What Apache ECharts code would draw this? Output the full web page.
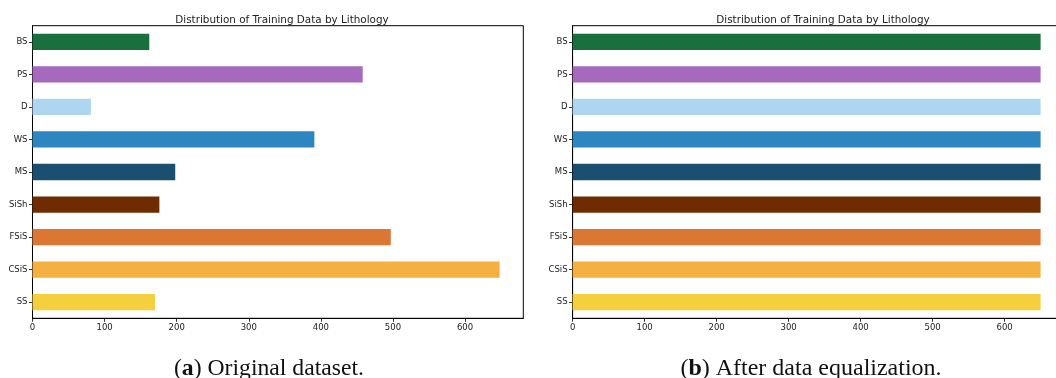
<!DOCTYPE html>
<html>
<head>
<meta charset="utf-8">
<script src="https://cdn.jsdelivr.net/npm/echarts@6/dist/echarts.min.js"></script>
<style>
html,body{margin:0;padding:0;background:#fff;overflow:hidden;width:1056px;height:378px}
#c{width:1072px;height:378px}
</style>
</head>
<body>
<div id="c"></div>
<script>
// Data (top-to-bottom order)
const categories = ['BS','PS','D','WS','MS','SiSh','FSiS','CSiS','SS'];
const originalCounts = [162, 458, 81, 391, 198, 176, 497, 648, 170];
const equalizedCounts = [650, 650, 650, 650, 650, 650, 650, 650, 650];
const barColors = ['#196F3D','#A569BD','#AED6F1','#2E86C1','#1B4F72','#6E2C00','#DC7633','#F5B041','#F4D03F'];
const chartTitle = 'Distribution of Training Data by Lithology';
const captionA = ['a', ' Original dataset.'];
const captionB = ['b', ' After data equalization.'];

const font = 'DejaVu Sans';
const tickFont = {fontFamily: font, fontSize: 8.5, color: '#222'};

function xAxisCfg(gi, max){
  return {
    type: 'value', gridIndex: gi, min: 0, max: max, interval: 100,
    axisLine: {show: true, lineStyle: {color: '#000', width: 1}},
    axisTick: {show: true, length: 3.5, lineStyle: {color: '#000', width: 0.8}},
    axisLabel: Object.assign({margin: 5, showMaxLabel: false, formatter: v => (v % 100 === 0 ? v : '')}, tickFont),
    splitLine: {show: false}
  };
}
function yAxisCfg(gi){
  return {
    type: 'category', gridIndex: gi, data: categories, inverse: true,
    axisLine: {show: true, onZero: false, lineStyle: {color: '#000', width: 1}},
    axisTick: {show: true, alignWithLabel: true, length: 3.5, lineStyle: {color: '#000', width: 0.8}},
    axisLabel: Object.assign({margin: 5}, tickFont)
  };
}
function seriesCfg(i, vals){
  return {
    type: 'bar', xAxisIndex: i, yAxisIndex: i, barWidth: '50%',
    data: vals.map((v, k) => ({value: v, itemStyle: {color: barColors[k]}})),
    silent: true, animation: false
  };
}
function capTitle(parts, cx, size){
  return {
    text: '(' + '{b|' + parts[0] + '})' + parts[1],
    left: cx, top: 352, textAlign: 'center',
    textStyle: {
      fontFamily: 'Liberation Serif', fontSize: size, color: '#111', fontWeight: 'normal',
      rich: {b: {fontFamily: 'Liberation Serif', fontSize: size, fontWeight: 'bold', color: '#111'}}
    }
  };
}

const chart = echarts.init(document.getElementById('c'), null, {renderer: 'canvas'});
chart.setOption({
  animation: false,
  backgroundColor: '#fff',
  title: [
    {text: chartTitle, left: 277, top: 10, textAlign: 'center', textStyle: {fontFamily: font, fontSize: 10.4, fontWeight: 'normal', color: '#222'}},
    {text: chartTitle, left: 818, top: 10, textAlign: 'center', textStyle: {fontFamily: font, fontSize: 10.4, fontWeight: 'normal', color: '#222'}},
    capTitle(captionA, 264, 23.7),
    capTitle(captionB, 806, 24)
  ],
  grid: [
    {left: 32.5, width: 490.8, top: 25.7, height: 292.6, show: true, borderColor: '#000', borderWidth: 1, backgroundColor: 'transparent'},
    {left: 572.6, width: 491.4, top: 25.7, height: 292.6, show: true, borderColor: '#000', borderWidth: 1, backgroundColor: 'transparent'}
  ],
  xAxis: [xAxisCfg(0, 680.8), xAxisCfg(1, 682.5)],
  yAxis: [yAxisCfg(0), yAxisCfg(1)],
  series: [seriesCfg(0, originalCounts), seriesCfg(1, equalizedCounts)]
});
</script>
</body>
</html>
